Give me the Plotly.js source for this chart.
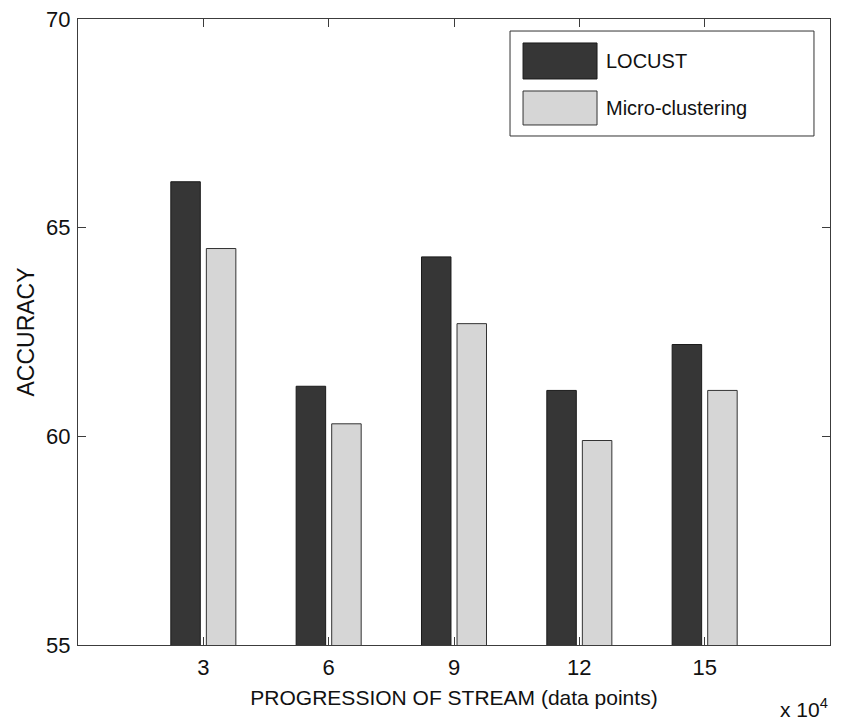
<!DOCTYPE html>
<html>
<head>
<meta charset="utf-8">
<script src="https://cdn.plot.ly/plotly-3.0.1.min.js"></script>
<style>html,body{margin:0;padding:0;background:#fff;}#chart{width:848px;height:725px;}</style>
</head>
<body>
<div id="chart"></div>
<script>
// Data
var progression = [3, 6, 9, 12, 15];          // x 10^4 data points
var seriesNames = ["LOCUST", "Micro-clustering"];
var locustAccuracy = [66.1, 61.2, 64.3, 61.1, 62.2];
var microAccuracy = [64.5, 60.3, 62.7, 59.9, 61.1];
var yTicks = [55, 60, 65, 70];

var FONT = "Liberation Sans, Arial, Helvetica, sans-serif";
var darkFill = "#363636", lightFill = "#d6d6d6";

var traces = [
  {type: "bar", name: seriesNames[0], x: progression, y: locustAccuracy,
   marker: {color: darkFill, line: {color: "#1a1a1a", width: 1}}, showlegend: false, hoverinfo: "x+y+name"},
  {type: "bar", name: seriesNames[1], x: progression, y: microAccuracy,
   marker: {color: lightFill, line: {color: "#333333", width: 1}}, showlegend: false, hoverinfo: "x+y+name"}
];

var axisCommon = {
  showline: true, linecolor: "#3c3c3c", linewidth: 1, mirror: "ticks",
  ticks: "inside", ticklen: 8, tickwidth: 1, tickcolor: "#3c3c3c",
  showgrid: false, zeroline: false,
  tickfont: {family: FONT, size: 22, color: "#111"}
};

var layout = {
  width: 848, height: 725,
  margin: {l: 78, r: 18, t: 19, b: 80},
  paper_bgcolor: "#ffffff", plot_bgcolor: "#ffffff",
  barmode: "group", bargap: 0.433, bargroupgap: 0.17,
  showlegend: false,
  xaxis: Object.assign({}, axisCommon, {
    range: [0, 18], tickmode: "array", tickvals: progression,
    ticktext: progression.map(String), ticklabelstandoff: 3,
    title: {text: "PROGRESSION OF STREAM (data points)", font: {family: FONT, size: 21, color: "#111"}, standoff: 10}
  }),
  yaxis: Object.assign({}, axisCommon, {
    range: [55, 70], tickmode: "array", tickvals: yTicks,
    ticktext: yTicks.map(String), ticklabelstandoff: 2,
    title: {text: "ACCURACY", font: {family: FONT, size: 23, color: "#111"}, standoff: 5}
  }),
  shapes: [
    // legend box
    {type: "rect", xref: "paper", yref: "paper", x0: 0.5745, x1: 0.9787, y0: 0.8131, y1: 0.9808,
     line: {color: "#333", width: 1}, fillcolor: "#fff", layer: "above"},
    {type: "rect", xref: "paper", yref: "paper", x0: 0.5918, x1: 0.6902, y0: 0.9042, y1: 0.9617,
     line: {color: "#1a1a1a", width: 1}, fillcolor: darkFill, layer: "above"},
    {type: "rect", xref: "paper", yref: "paper", x0: 0.5918, x1: 0.6902, y0: 0.8307, y1: 0.8850,
     line: {color: "#333", width: 1}, fillcolor: lightFill, layer: "above"}
  ],
  annotations: [
    {xref: "paper", yref: "paper", x: 0.6995, y: 0.9329, xanchor: "left", yanchor: "middle",
     text: seriesNames[0], showarrow: false, font: {family: FONT, size: 20, color: "#111"}},
    {xref: "paper", yref: "paper", x: 0.6995, y: 0.8578, xanchor: "left", yanchor: "middle",
     text: seriesNames[1], showarrow: false, font: {family: FONT, size: 20, color: "#111"}},
    {xref: "paper", yref: "paper", x: 1.0, y: -0.1, xanchor: "right", yanchor: "middle",
     text: "x 10<sup>4</sup>", showarrow: false, font: {family: FONT, size: 21, color: "#111"}}
  ]
};

Plotly.newPlot("chart", traces, layout, {displayModeBar: false, staticPlot: true});
</script>
</body>
</html>
